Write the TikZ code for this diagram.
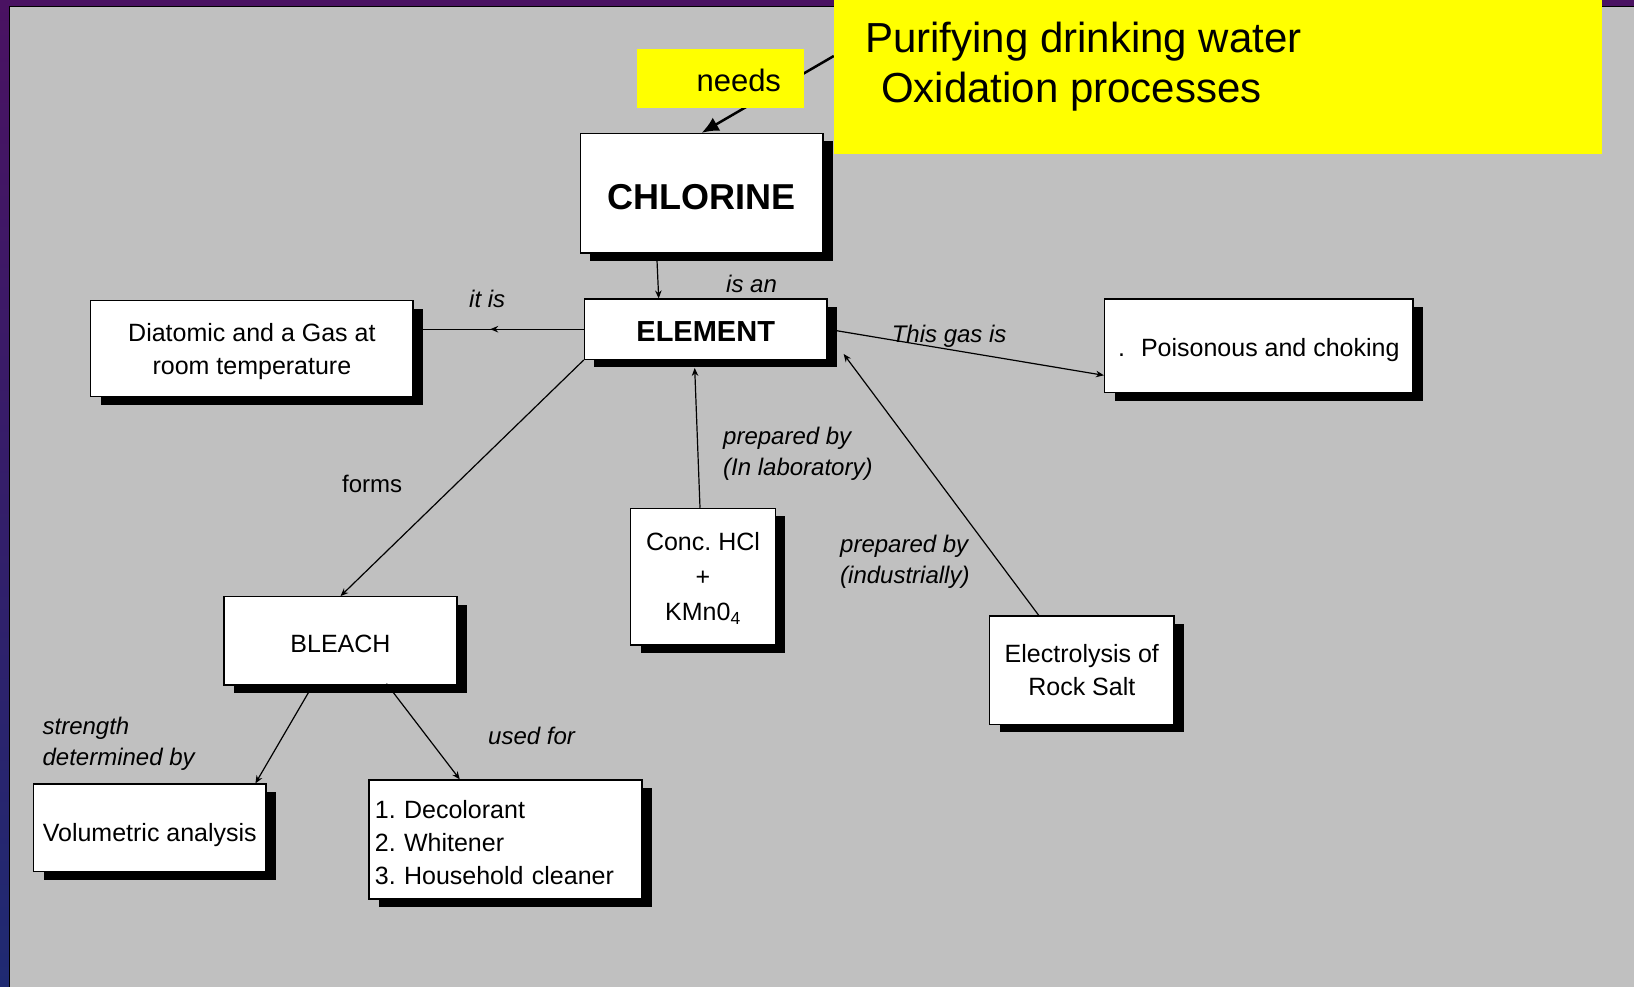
\documentclass[tikz,border=0pt]{standalone}
\usepackage{fontspec}
\setmainfont{Liberation Sans}
\frenchspacing
\usetikzlibrary{shadows,arrows.meta,decorations.markings,calc}
\pgfdeclarelayer{bg}
\pgfdeclarelayer{lines}
\pgfsetlayers{bg,lines,main}
\definecolor{panelgray}{HTML}{C0C0C0}
\definecolor{stripA}{HTML}{4A1262}
\definecolor{stripB}{HTML}{1F2A72}
\definecolor{hiyellow}{HTML}{FFFF00}
\tikzset{
  cbox/.style={draw=black, line width=1.2pt, fill=white, inner sep=0pt, align=center,
    font=\fontsize{25}{33}\selectfont,
    drop shadow={shadow xshift=10pt, shadow yshift=-8pt, fill=black, opacity=1}},
  lbl/.style={inner sep=0pt, font=\fontsize{24}{31}\selectfont\itshape, align=left},
  conn/.style={line width=1.2pt, -{Stealth[length=8pt,width=6.5pt]}},
}
\begin{document}
\begin{tikzpicture}[x=1pt,y=-1pt]
\useasboundingbox (0,0) rectangle (1634,987);
\begin{pgfonlayer}{bg}
\shade[top color=stripA, bottom color=stripB] (0,0) rectangle (9,987);
\fill[stripA] (9,0) rectangle (1634,7);
\fill[panelgray] (9,7) rectangle (1634,987);
\draw[black, line width=1pt] (9,987) -- (9,7) -- (1634,7);
\end{pgfonlayer}

\node[fill=hiyellow, minimum width=768pt, minimum height=154pt, inner sep=0pt] (purify) at (1218,77) {};
\node[inner sep=0pt, anchor=base west, align=left, font=\fontsize{42}{50}\selectfont] (purifytext) at (865,102.5) {Purifying drinking water\\\hspace*{16pt}Oxidation processes};
\node[fill=hiyellow, minimum width=167pt, minimum height=59pt, inner xsep=23pt, inner ysep=0pt, text width=121pt, align=right, font=\fontsize{31}{36}\selectfont, text height=26.6pt, text depth=0pt] (needs) at (720.5,78.5) {needs};

\node[cbox, minimum width=242.6pt, minimum height=119.6pt, font=\fontsize{36}{40}\selectfont\bfseries, text height=32pt, text depth=0pt] (chlorine) at (701.7,193.2) {CHLORINE};
\node[cbox, minimum width=242.6pt, minimum height=60.3pt, font=\fontsize{29}{34}\selectfont\bfseries, text height=24.8pt, text depth=0pt] (element) at (705.7,329.2) {ELEMENT};
\node[cbox, minimum width=322.3pt, minimum height=96pt, text depth=0pt] (diatomic) at (251.9,348.7) {Diatomic and a Gas at\\room temperature};
\node[cbox, minimum width=308.5pt, minimum height=93.7pt, text height=22pt, text depth=0pt] (poison) at (1258.8,345.9) {.\hspace{16pt}Poisonous and choking};
\node[cbox, minimum width=144.7pt, minimum height=136.7pt, font=\fontsize{25}{35}\selectfont, text depth=0pt] (hcl) at (703,576.7) {Conc. HCl\\+\\KMn0\textsubscript{4}};
\node[cbox, minimum width=184.4pt, minimum height=108.3pt] (electro) at (1081.8,670.2) {Electrolysis of\\Rock Salt};
\node[cbox, minimum width=233pt, minimum height=88.3pt, text height=24pt, text depth=0pt] (bleach) at (340.5,640.9) {BLEACH};
\node[cbox, minimum width=232.5pt, minimum height=87.7pt, text height=26.2pt, text depth=0pt] (volum) at (149.8,827.9) {Volumetric analysis};
\node[cbox, minimum width=273pt, minimum height=119pt, text width=261pt, inner xsep=6pt, align=left, text height=24.5pt] (uses) at (505.4,839.5) {1. Decolorant\\2. Whitener\\3. Household cleaner};

\node[lbl, anchor=base west] (lisan) at (726,292.7) {is an};
\node[lbl, anchor=base west] (litis) at (469,308) {it is};
\node[lbl, anchor=base west] (lgas) at (891.6,342) {This gas is};
\node[lbl, font=\fontsize{24}{30}\selectfont, anchor=base west] (lforms) at (342,492) {forms};
\node[lbl, anchor=base west] (llab) at (723,475) {prepared by\\(In laboratory)};
\node[lbl, anchor=base west] (lind) at (840,583) {prepared by\\(industrially)};
\node[lbl, anchor=base west] (lstr) at (42.4,765.6) {strength\\determined by};
\node[lbl, anchor=base west] (lused) at (488,744) {used for};

\begin{pgfonlayer}{lines}
\draw[line width=2.5pt, -{Latex[length=17pt,width=15pt]}] ($(purify.north west)!0.364!(purify.south west)$) -- (chlorine.north);
\draw[conn] ([xshift=-45pt]chlorine.south) -- ([xshift=-47pt]element.north);
\draw[line width=1.2pt, postaction={decorate}, decoration={markings, mark=at position 0.55 with {\arrow{Stealth[length=8pt,width=6.5pt]}}}] (element.west) -- (element.west -| diatomic.east);
\draw[conn] (element.east) -- ($(poison.north west)!0.81!(poison.south west)$);
\draw[conn] ([xshift=-3pt]hcl.north) -- ([xshift=-11pt,yshift=-8pt]element.south);
\draw[conn] ([xshift=-43pt]electro.north) -- ([xshift=16pt,yshift=6pt]element.south east);
\draw[conn] (element.south west) -- (bleach.north);
\draw[conn] ([xshift=-28pt]bleach.south) -- ([xshift=105.6pt]volum.north);
\end{pgfonlayer}
\draw[conn] ([xshift=46pt,yshift=2pt]bleach.south) -- ([xshift=-45.6pt]uses.north);
\end{tikzpicture}
\end{document}
